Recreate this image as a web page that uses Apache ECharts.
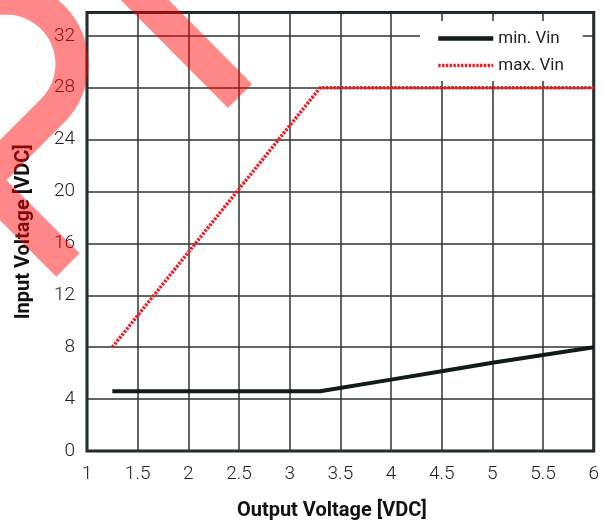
<!DOCTYPE html>
<html>
<head>
<meta charset="utf-8">
<title>Input Voltage vs Output Voltage</title>
<script src="https://cdn.jsdelivr.net/npm/echarts@6.0.0/dist/echarts.min.js"></script>
<style>
    body { margin: 0; background: #fff; }
    #chart { width: 602px; height: 526px; }
</style>
</head>
<body>
<div id="chart"></div>
<script>
    // values
    var minVinX = [1.25, 3.3, 4, 4.5, 5, 5.5, 6];
    var minVinY = [4.6, 4.6, 5.5, 6.15, 6.8, 7.4, 8];
    var maxVinX = [1.25, 3.3, 6];
    var maxVinY = [8, 28, 28];

    var FONT = "Roboto, 'Liberation Sans', sans-serif";

    function pairs(xs, ys) {
        var out = [];
        for (var i = 0; i < xs.length; i++) {
            out.push([xs[i], ys[i]]);
        }
        return out;
    }

    // outline of the red stamp in the top left corner (arc, then two straight strokes)
    var stamp = [];
    for (var k = 0; k <= 40; k++) {
        var a = Math.PI + k / 40 * 1.25 * Math.PI;
        stamp.push([6 + 66 * Math.cos(a), 64 + 66 * Math.sin(a)]);
    }
    stamp.push([-16.8, 180.2], [68, 265]);

    var chart = echarts.init(document.getElementById('chart'));
    var option = {
        animation: false,
        grid: {
            left: 87,
            right: 8,
            top: 12.5,
            bottom: 74,
            show: true,
            backgroundColor: '#fff',
            borderColor: '#17201e',
            borderWidth: 3
        },
        legend: {
            left: 420,
            top: 21,
            orient: 'vertical',
            backgroundColor: '#fff',
            padding: [9, 19, 7, 16],
            itemWidth: 55,
            itemHeight: 14,
            itemGap: 10,
            selectedMode: false,
            itemStyle: { opacity: 0 },
            textStyle: { color: '#222', fontSize: 17, fontFamily: FONT },
            data: [
                { name: 'min. Vin', lineStyle: { width: 4.5 } },
                { name: 'max. Vin', lineStyle: { width: 3.5 } }
            ]
        },
        xAxis: {
            type: 'value',
            min: 1,
            max: 6,
            interval: 0.5,
            name: 'Output Voltage [VDC]',
            nameLocation: 'middle',
            nameGap: 50,
            nameTextStyle: { color: '#111', fontSize: 20, fontWeight: 'bold', fontFamily: FONT, padding: [0, 17, 0, 0] },
            axisLine: { show: false },
            axisTick: { show: false },
            axisLabel: { color: '#222', fontSize: 19, fontWeight: 300, margin: 14, fontFamily: FONT },
            splitLine: { show: true, lineStyle: { color: '#2b3432', width: 1.5 } }
        },
        yAxis: {
            type: 'value',
            min: 0,
            max: 33.8,
            interval: 4,
            name: 'Input Voltage [VDC]',
            nameLocation: 'middle',
            nameGap: 53,
            nameTextStyle: { color: '#111', fontSize: 20, fontWeight: 'bold', fontFamily: FONT },
            axisLine: { show: false },
            axisTick: { show: false },
            axisLabel: {
                color: '#222', fontSize: 19, fontWeight: 300, margin: 12, fontFamily: FONT,
                formatter: function (v) { return v % 4 === 0 ? String(v) : ''; }
            },
            splitLine: { show: true, lineStyle: { color: '#2b3432', width: 1.5 } }
        },
        series: [
            {
                name: 'min. Vin',
                type: 'line',
                symbol: 'none',
                z: 5,
                lineStyle: { color: '#131b19', width: 4 },
                itemStyle: { color: '#131b19' },
                data: pairs(minVinX, minVinY)
            },
            {
                name: 'max. Vin',
                type: 'line',
                symbol: 'none',
                z: 5,
                lineStyle: { color: '#ee1c25', width: 3.5, type: [2.4, 1.4] },
                itemStyle: { color: '#ee1c25' },
                data: pairs(maxVinX, maxVinY)
            }
        ],
        graphic: [
            {
                type: 'polyline',
                z: 100,
                silent: true,
                shape: { points: stamp },
                style: { fill: null, stroke: 'rgba(255,0,0,0.47)', lineWidth: 33, lineJoin: 'miter', lineCap: 'butt' }
            },
            {
                type: 'line',
                z: 100,
                silent: true,
                shape: { x1: 110, y1: -35, x2: 240, y2: 96 },
                style: { stroke: 'rgba(255,0,0,0.47)', lineWidth: 34, lineCap: 'butt' }
            }
        ]
    };
    chart.setOption(option);
</script>
</body>
</html>
